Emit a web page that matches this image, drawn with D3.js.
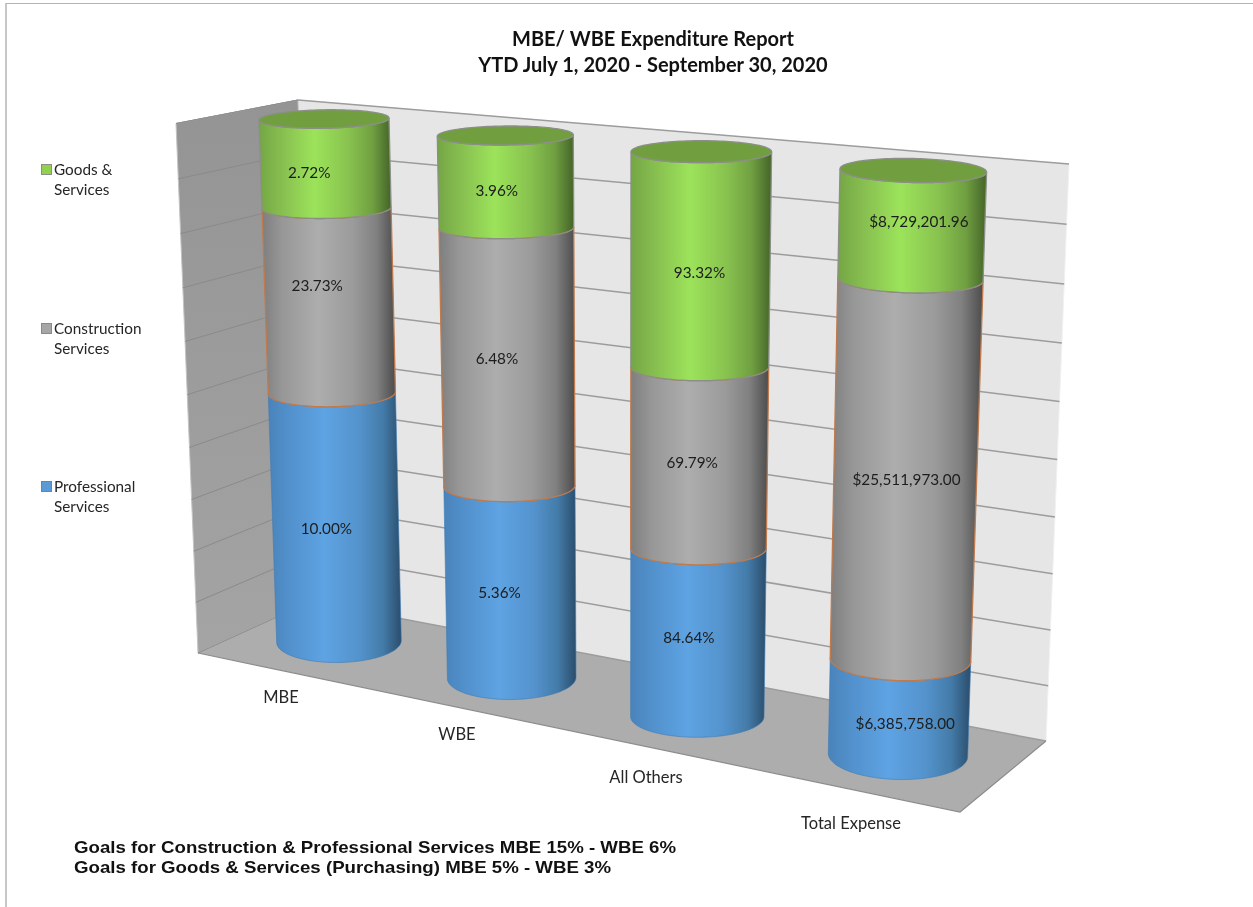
<!DOCTYPE html>
<html><head><meta charset="utf-8">
<script src="https://cdnjs.cloudflare.com/ajax/libs/d3/7.8.5/d3.min.js"></script>
<style>html,body{margin:0;padding:0;background:#fff}svg{display:block;filter:blur(0.4px)}text{font-family:Lato,"Open Sans",sans-serif}</style>
</head><body><svg id="c" width="1253" height="907"></svg>
<script>
// ---- data ----
const categories = ["MBE", "WBE", "All Others", "Total Expense"];
const professional = [47.6, 35.4, 29.8, 16.3];
const construction = [35.4, 47.6, 32.1, 65.1];
const goods = [17.0, 17.0, 38.1, 18.6];
const professionalLabels = ["10.00%", "5.36%", "84.64%", "$6,385,758.00"];
const constructionLabels = ["23.73%", "6.48%", "69.79%", "$25,511,973.00"];
const goodsLabels = ["2.72%", "3.96%", "93.32%", "$8,729,201.96"];
const titleLines = ["MBE/ WBE Expenditure Report", "YTD July 1, 2020 - September 30, 2020"];
const goalLines = ["Goals for Construction & Professional Services MBE 15% - WBE 6%", "Goals for Goods & Services (Purchasing) MBE 5% - WBE 3%"];
const legendGoods = ["Goods &", "Services"];
const legendConstruction = ["Construction", "Services"];
const legendProfessional = ["Professional", "Services"];
const valueTicks = [0, 10, 20, 30, 40, 50, 60, 70, 80, 90, 100];

// ---- layout (3D scene) ----
const idx = d3.scaleOrdinal().domain(categories).range([0, 1, 2, 3]);
const cols = [0, 1, 2, 3];
const L = {
  cxB: d3.scaleLinear(cols, [339, 511.7, 697.3, 898]),
  yB: d3.scaleLinear(cols, [641.5, 678, 716.7, 755]),
  rxB: d3.scaleLinear(cols, [62.3, 64.3, 66.7, 69.7]),
  ryB: d3.scaleLinear(cols, [21, 21.5, 20.6, 24.5]),
  cxT: d3.scaleLinear(cols, [324, 505.3, 701.3, 913.3]),
  yT: d3.scaleLinear(cols, [119, 135.5, 151.7, 170.5]),
  rxT: d3.scaleLinear(cols, [65, 68, 70.3, 73.3]),
  ryT: d3.scaleLinear(cols, [9.2, 9.5, 11, 12]),
  tilt: d3.scaleLinear(cols, [-0.9, -0.6, 0, 1.3]),
  catX: d3.scaleLinear(cols, [281, 457, 646, 851]),
  catY: d3.scaleLinear(cols, [697, 734, 777, 823])
};
const wall = {
  LT: [176, 123.5], BT: [298, 100], RT: [1069, 164],
  LB: [198, 653], BB: [311, 601.5], RB: [1046, 741], FR: [960, 812]
};
const labelNudge = {
  goods: [[-16, 9], [-9, 9], [-1, 13], [7, -4]],
  construction: [[-12, -15], [-11, 1], [-7, 4], [1, 10]],
  professional: [[-9, 11], [-11, 10], [-9, 5], [6, 16]]
};
const textDy = 2;

const value = d3.scaleLinear().domain([0, 100]).range([0, 1]);
const warp = t => t / (t + (1 - t) * 1.05);
const edge = (bottom, top) => v => {
  const s = warp(value(v));
  return [d3.interpolateNumber(bottom[0], top[0])(s), d3.interpolateNumber(bottom[1], top[1])(s)];
};
const ryWarp = d3.scalePow().exponent(0.7).domain([0, 1]).range([0, 1]);

function ring(i, v) {
  const t = value(v), lerp = (a, b) => a(i) + (b(i) - a(i)) * t;
  return {
    cx: lerp(L.cxB, L.cxT), y: lerp(L.yB, L.yT), rx: lerp(L.rxB, L.rxT),
    ry: L.ryB(i) + (L.ryT(i) - L.ryB(i)) * ryWarp(t),
    k: Math.tan(L.tilt(i) * Math.PI / 180)
  };
}
const ang = d3.range(0, 61).map(d => d / 60 * Math.PI);
const pt = (r, a) => [r.cx + r.rx * Math.cos(a), r.y + r.ry * Math.sin(a) + r.k * r.rx * Math.cos(a)];
const frontLR = r => ang.map(a => pt(r, Math.PI - a));
const frontRL = r => ang.map(a => pt(r, a));
const backLR = r => ang.map(a => pt(r, Math.PI + a));
const line = d3.line();

const svg = d3.select("#c");
const defs = svg.append("defs");
function grad(id, stops) {
  const g = defs.append("linearGradient").attr("id", id).attr("x1", 0).attr("x2", 1).attr("y1", 0).attr("y2", 0);
  stops.forEach(s => g.append("stop").attr("offset", s[0]).attr("stop-color", s[1]));
}
const offs = [0, 0.15, 0.42, 0.68, 0.86, 1];
const ramp = cs => cs.map((c, i) => [offs[i], c]);
grad("gBlue", ramp(["#4a83ba", "#5190cb", "#5ea3e3", "#5493cd", "#447ca9", "#2b4d6c"]));
grad("gGray", ramp(["#7e7e7e", "#979797", "#adadad", "#9b9b9b", "#808080", "#4c4c4c"]));
grad("gGreen", ramp(["#74a644", "#85bb4f", "#9ce35a", "#88c24f", "#709f41", "#446428"]));
const lw = defs.append("linearGradient").attr("id", "gWall").attr("x1", 0).attr("x2", 0).attr("y1", 0).attr("y2", 1);
lw.append("stop").attr("offset", 0).attr("stop-color", "#949494");
lw.append("stop").attr("offset", 1).attr("stop-color", "#a4a4a4");

// page frame
svg.append("line").attr("x1", 6).attr("x2", 1253).attr("y1", 3.5).attr("y2", 3.5).attr("stroke", "#b4b4b4").attr("stroke-width", 1.2);
svg.append("line").attr("x1", 6).attr("x2", 6).attr("y1", 3).attr("y2", 907).attr("stroke", "#b4b4b4").attr("stroke-width", 1.5);

// walls and floor
const poly = pts => line(pts) + "Z";
svg.append("path").attr("d", poly([wall.BT, wall.RT, wall.RB, wall.BB])).attr("fill", "#e6e6e6").attr("stroke", "#f1f1f1");
svg.append("path").attr("d", poly([wall.LT, wall.BT, wall.BB, wall.LB])).attr("fill", "url(#gWall)").attr("stroke", "#c4c4c4").attr("stroke-width", 1);
svg.append("path").attr("d", poly([wall.LB, wall.BB, wall.RB, wall.FR])).attr("fill", "#adadad");
svg.append("path").attr("d", line([wall.LB, wall.FR, wall.RB])).attr("fill", "none").attr("stroke", "#8c8c8c").attr("stroke-width", 1.2);

const eL = edge(wall.LB, wall.LT), eB = edge(wall.BB, wall.BT), eR = edge(wall.RB, wall.RT);
svg.append("g").selectAll("path").data(valueTicks).join("path")
  .attr("d", v => line([eL(v), eB(v)])).attr("fill", "none").attr("stroke", "#8a8a8a").attr("stroke-width", 1);
svg.append("g").selectAll("path").data(valueTicks).join("path")
  .attr("d", v => line([eB(v), eR(v)])).attr("fill", "none").attr("stroke", "#9c9c9c").attr("stroke-width", 1.5);
svg.append("path").attr("d", line([wall.LT, wall.BT])).attr("fill", "none").attr("stroke", "#8f8f8f").attr("stroke-width", 1);

// cylinders
const seriesDefs = [
  { key: "professional", values: professional, labels: professionalLabels, fill: "url(#gBlue)", stroke: "#3f7cb4", sw: 0.6 },
  { key: "construction", values: construction, labels: constructionLabels, fill: "url(#gGray)", stroke: "#c07a4c", sw: 1.3 },
  { key: "goods", values: goods, labels: goodsLabels, fill: "url(#gGreen)", stroke: "#8b8f88", sw: 1.3 }
];
const texts = [];
categories.forEach(cat => {
  const i = idx(cat), g = svg.append("g");
  let base = 0;
  seriesDefs.forEach(s => {
    const top = base + s.values[i], a = ring(i, base), b = ring(i, top);
    g.append("path").attr("d", line([...frontLR(a), ...frontRL(b)]) + "Z")
      .attr("fill", s.fill).attr("stroke", s.stroke).attr("stroke-width", s.sw);
    const mid = ring(i, base + s.values[i] / 2), n = labelNudge[s.key][i];
    texts.push({ x: mid.cx + n[0], y: mid.y + n[1] + textDy, t: s.labels[i] });
    base = top;
  });
  const cap = ring(i, base);
  g.append("path").attr("d", line([...frontLR(cap), ...backLR(cap).slice().reverse()].reverse()) + "Z")
    .attr("fill", "#719f3f").attr("stroke", "#8b8f88").attr("stroke-width", 1.3);
});

svg.append("g").selectAll("text").data(texts).join("text")
  .attr("x", d => d.x).attr("y", d => d.y).attr("text-anchor", "middle").attr("dominant-baseline", "middle")
  .attr("font-size", 15.3).attr("fill", "#1d1d1d").text(d => d.t);

svg.append("g").selectAll("text").data(categories).join("text")
  .attr("x", d => L.catX(idx(d))).attr("y", d => L.catY(idx(d)) + textDy).attr("text-anchor", "middle").attr("dominant-baseline", "middle")
  .attr("font-size", 16.5).attr("fill", "#262626").text(d => d);

// title
svg.append("g").selectAll("text").data(titleLines).join("text")
  .attr("x", 653).attr("y", (d, i) => 39 + textDy + i * 26).attr("text-anchor", "middle").attr("dominant-baseline", "middle")
  .attr("font-size", 20).attr("font-weight", 700).attr("fill", "#111").text(d => d);

// goals note
svg.append("g").selectAll("text").data(goalLines).join("text")
  .attr("x", 74).attr("y", (d, i) => 847 + textDy + i * 20).attr("dominant-baseline", "middle")
  .style("font-family", "'Liberation Sans',Arial,sans-serif")
  .attr("font-size", 17).attr("font-weight", 700).attr("fill", "#111")
  .attr("textLength", (d, i) => [602, 537][i]).attr("lengthAdjust", "spacingAndGlyphs").text(d => d);

// legend
const legend = [
  { lines: legendGoods, y: 169, fill: "#92d050", stroke: "#8b8f88" },
  { lines: legendConstruction, y: 328, fill: "#a6a6a6", stroke: "#c07a4c" },
  { lines: legendProfessional, y: 486, fill: "#5b9bd5", stroke: "#4f8cc4" }
];
const lg = svg.append("g").selectAll("g").data(legend).join("g");
lg.append("rect").attr("x", 41.5).attr("y", d => d.y - 4.5).attr("width", 10).attr("height", 10)
  .attr("fill", d => d.fill).attr("stroke", d => d.stroke).attr("stroke-width", 1);
lg.each(function (d) {
  d3.select(this).selectAll("text").data(d.lines).join("text")
    .attr("x", 54).attr("y", (l, i) => d.y + textDy + i * 20.3).attr("dominant-baseline", "middle")
    .attr("font-size", 15.3).attr("fill", "#262626").text(l => l);
});
</script></body></html>
